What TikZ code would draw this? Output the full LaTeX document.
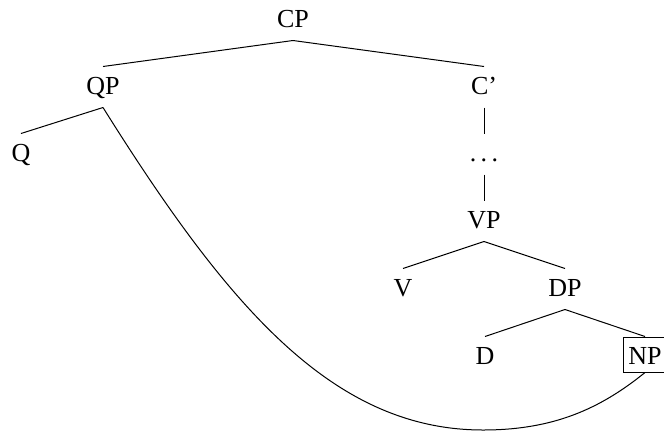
\documentclass[tikz,border=0pt]{standalone}
\usepackage{fontspec}
\setmainfont{Liberation Serif}
\tikzset{
  cat/.style = {
    anchor=base,
    font=\fontsize{26}{30}\selectfont,
    text height=17pt, text depth=3pt, % same height for every label
    inner xsep=2pt, inner ysep=10pt
  },
  boxcat/.style = {cat, draw, text height=19pt, text depth=0pt,
    inner ysep=8pt, inner xsep=5pt}
}

\begin{document}
\begin{tikzpicture}[x=1pt, y=-1pt, line width=1pt]
\useasboundingbox (0,0) rectangle (664,432);
\node[cat] (cp)   at (293,27)  {CP};
\node[cat] (qp)   at (103,94)  {QP};
\node[cat] (cbar) at (484,94)  {C’};
\node[cat] (q)    at (21,161)  {Q};
\node[cat] (dots) at (484,161) {.\,.\,.};
\node[cat] (vp)   at (484,228) {VP};
\node[cat] (v)    at (403,296) {V};
\node[cat] (dp)   at (565,296) {DP};
\node[cat] (d)    at (485,364) {D};
\node[boxcat] (np) at (645,364) {NP};
\draw (cp.south) -- (qp.north);
\draw (cp.south) -- (cbar.north);
\draw (qp.south) -- (q.north);
\draw (cbar.south) -- (dots.north);
\draw (dots.south) -- (vp.north);
\draw (vp.south) -- (v.north);
\draw (vp.south) -- (dp.north);
\draw (dp.south) -- (d.north);
\draw (dp.south) -- (np.north);
\coordinate (low) at (483,430); % lowest point of the curve
\draw (qp.south) .. controls (228,307) and (333,430) .. (low)
                 .. controls (553,430) and (600,409) .. (np.south);
\end{tikzpicture}
\end{document}
